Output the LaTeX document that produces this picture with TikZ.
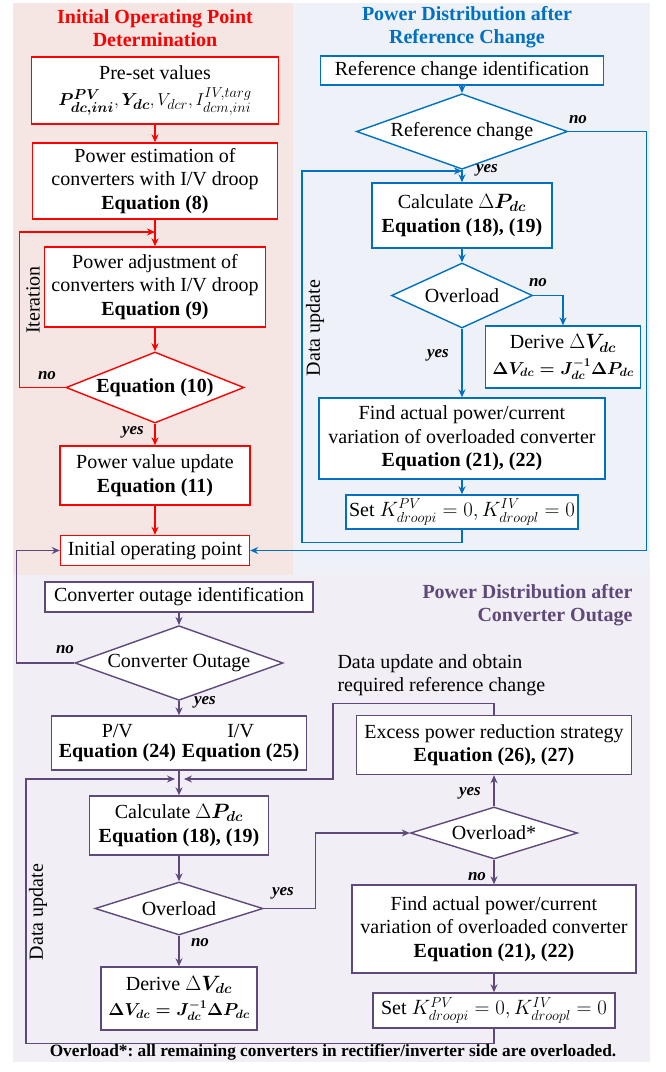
\documentclass[tikz,border=0pt]{standalone}
\usepackage{amsmath}
\usepackage{fontspec}
\setmainfont{Liberation Serif}
\usepackage{tikz}
\usetikzlibrary{arrows.meta, shapes.geometric, positioning}
\frenchspacing

\definecolor{opred}{HTML}{FF0000}
\definecolor{refblue}{HTML}{0070C0}
\definecolor{outpurple}{HTML}{5F497A}
\definecolor{opbg}{HTML}{F5E5E3}
\definecolor{refbg}{HTML}{EEF1F7}
\definecolor{outbg}{HTML}{F1EEF5}

\begin{document}
\begin{tikzpicture}[x=1pt, y=-1pt,
    txt/.style={font=\fontsize{20}{23.5}\selectfont},
    box/.style={draw, fill=white, line width=1.4pt, rectangle, align=center, inner sep=0pt, txt},
    choice/.style={draw, fill=white, line width=1.4pt, diamond, aspect=2.5, inner sep=0pt, txt},
    flow/.style={line width=1.3pt, -{Stealth[length=8pt,width=7pt]}},
    ans/.style={font=\fontsize{17}{19}\selectfont\bfseries\itshape},
    title/.style={font=\fontsize{20}{23}\selectfont\bfseries, align=center},
  ]
    \useasboundingbox (0,0) rectangle (665,1072);

    % Backgrounds of the three parts
    \fill[opbg] (13,3) rectangle (293,575);
    \fill[refbg] (293,3) rectangle (650,575);
    \fill[outbg] (13,575) rectangle (650,1062);

    % Initial operating point determination
    \begin{scope}[draw=opred, opred]
        \node[title] (optitle) at (155,28.5) {Initial Operating Point\\Determination};
        \node[box, minimum width=247pt, minimum height=67pt] (preset) at (155,90.5)
            {\color{black}Pre-set values\\[3pt]\color{black}\fontsize{19}{22}\selectfont$\boldsymbol{P^{PV}_{dc,ini}}, \boldsymbol{Y_{dc}}, V_{dcr}, I^{IV,targ}_{dcm,ini}$};
        \node[box, minimum width=245pt, minimum height=76pt] (est) at (155,181)
            {\color{black}Power estimation of\\\color{black}converters with I/V droop\\\color{black}\textbf{Equation (8)}};
        \node[box, minimum width=221pt, minimum height=80pt] (adj) at (155,287)
            {\color{black}Power adjustment of\\\color{black}converters with I/V droop\\\color{black}\textbf{Equation (9)}};
        \node[choice, minimum width=178pt, minimum height=71pt] (eqten) at (155,387.5)
            {\color{black}\textbf{Equation (10)}};
        \node[box, minimum width=190pt, minimum height=59pt] (upd) at (155,475.5)
            {\color{black}Power value update\\\color{black}\textbf{Equation (11)}};
        \node[box, minimum width=189pt, minimum height=30pt] (init) at (155,550.5)
            {\color{black}Initial operating point};
        \coordinate (opjoin) at (155,232);

        \draw[flow] (preset) -- (est);
        \draw[flow] (est) -- (adj);
        \draw[flow] (adj) -- (eqten);
        \draw[flow] (eqten.west) -- ++(-46,0) |- (opjoin);
        \draw[flow] (eqten) -- (upd);
        \draw[flow] (upd) -- (init);

        \node[ans, black] at (47,376) {no};
        \node[ans, black] at (133,432) {yes};
        \node[txt, black, rotate=90] at (33,300) {Iteration};
    \end{scope}

    % Power distribution after reference change
    \begin{scope}[draw=refblue, refblue]
        \node[title] (reftitle) at (467,27.5) {Power Distribution after\\Reference Change};
        \node[box, minimum width=283pt, minimum height=29pt] (refid) at (462,70.5)
            {\color{black}Reference change identification};
        \node[choice, minimum width=211pt, minimum height=63pt] (refchg) at (462,131.5)
            {\color{black}Reference change};
        \node[box, minimum width=180pt, minimum height=65pt] (calcref) at (462,215.5)
            {\color{black}Calculate $\Delta\boldsymbol{P_{dc}}$\\\color{black}\textbf{Equation (18), (19)}};
        \node[choice, minimum width=141pt, minimum height=65pt] (ovlref) at (462,295.5)
            {\color{black}Overload};
        \node[box, minimum width=155pt, minimum height=62pt] (derref) at (563,357)
            {\color{black}Derive $\Delta\boldsymbol{V_{dc}}$\\[2pt]\color{black}\fontsize{17}{20}\selectfont$\boldsymbol{\Delta V_{dc}=J^{-1}_{dc}\Delta P_{dc}}$};
        \node[box, minimum width=286pt, minimum height=81pt] (findref) at (462,438.5)
            {\color{black}Find actual power/current\\\color{black}variation of overloaded converter\\\color{black}\textbf{Equation (21), (22)}};
        \node[box, minimum width=232pt, minimum height=34pt] (setref) at (462,512)
            {\color{black}Set $K^{PV}_{droopi}=0, K^{IV}_{droopl}=0$};
        \coordinate (refjoin) at (462,171);

        \draw[flow] (refid) -- (refchg);
        \draw[flow] (refchg.east) -- ++(78,0) |- (init.east);
        \draw[flow] (refchg) -- (calcref);
        \draw[flow] (calcref) -- (ovlref);
        \draw[flow] (ovlref.east) -| (derref.north);
        \draw[flow] (ovlref) -- (findref);
        \draw[flow] (findref) -- (setref);
        \draw[flow] (setref.south) -- ++(0,13) -| (302,200) |- (refjoin);

        \node[ans, black] at (578,120) {no};
        \node[ans, black] at (487,170) {yes};
        \node[ans, black] at (538,283) {no};
        \node[ans, black] at (438,355) {yes};
        \node[txt, black, rotate=90] at (315,328) {Data update};
    \end{scope}

    % Power distribution after converter outage
    \begin{scope}[draw=outpurple, outpurple]
        \node[title, anchor=east, align=right] (outtitle) at (636,605) {Power Distribution after\\Converter Outage};
        \node[box, minimum width=268pt, minimum height=30pt] (outid) at (179,597)
            {\color{black}Converter outage identification};
        \node[choice, minimum width=208pt, minimum height=70pt] (outchk) at (179,663)
            {\color{black}Converter Outage};
        \node[box, minimum width=255pt, minimum height=54pt] (droops) at (179,743)
            {\color{black}\begin{tabular}{@{}c@{\hspace{6pt}}c@{}}P/V & I/V\\[-4pt]\textbf{Equation (24)} & \textbf{Equation (25)}\end{tabular}};
        \node[box, minimum width=179pt, minimum height=59pt] (calcout) at (179,825.5)
            {\color{black}Calculate $\Delta\boldsymbol{P_{dc}}$\\\color{black}\textbf{Equation (18), (19)}};
        \node[choice, minimum width=168pt, minimum height=53pt] (ovlout) at (179,908.5)
            {\color{black}Overload};
        \node[box, minimum width=156pt, minimum height=63pt] (derout) at (179,998.5)
            {\color{black}Derive $\Delta\boldsymbol{V_{dc}}$\\[2pt]\color{black}\fontsize{17}{20}\selectfont$\boldsymbol{\Delta V_{dc}=J^{-1}_{dc}\Delta P_{dc}}$};
        \node[box, minimum width=275pt, minimum height=59pt] (excess) at (494,745)
            {\color{black}Excess power reduction strategy\\\color{black}\textbf{Equation (26), (27)}};
        \node[choice, minimum width=167pt, minimum height=52pt] (ovlall) at (494,833)
            {\color{black}Overload*};
        \node[box, minimum width=284pt, minimum height=88pt] (findout) at (494,929)
            {\color{black}Find actual power/current\\\color{black}variation of overloaded converter\\\color{black}\textbf{Equation (21), (22)}};
        \node[box, minimum width=242pt, minimum height=35pt] (setout) at (494,1010.5)
            {\color{black}Set $K^{PV}_{droopi}=0, K^{IV}_{droopl}=0$};
        \coordinate (outjoinl) at (175,779);
        \coordinate (outjoinr) at (184,779);

        \draw[flow] (outid) -- (outchk);
        \draw[flow] (outchk.west) -- ++(-58,0) |- (init.west);
        \draw[flow] (outchk) -- (droops);
        \draw[flow] (droops) -- (calcout);
        \draw[flow] (calcout) -- (ovlout);
        \draw[flow] (ovlout) -- (derout);
        \draw[flow] (ovlout.east) -- ++(52,0) |- (ovlall.west);
        \draw[flow] (ovlall) -- (excess);
        \draw[flow] (ovlall) -- (findout);
        \draw[flow] (findout) -- (setout);
        \draw[flow] (excess.north) -- ++(0,-11) -| (333,760) |- (outjoinr);
        \draw[flow] (setout.south) -- ++(0,15) -| (26,900) |- (outjoinl);

        \node[ans, black] at (65,650) {no};
        \node[ans, black] at (205,702) {yes};
        \node[ans, black] at (283,893) {yes};
        \node[ans, black] at (200,943) {no};
        \node[ans, black] at (470,793) {yes};
        \node[ans, black] at (477,877) {no};
        \node[txt, black, rotate=90] at (38,912) {Data update};
        \node[txt, black, anchor=west, align=left] (obtain) at (334,675)
            {Data update and obtain\\required reference change};
    \end{scope}

    \node[font=\fontsize{17.3}{19}\selectfont\bfseries] (footnote) at (333,1052)
        {Overload*: all remaining converters in rectifier/inverter side are overloaded.};

\end{tikzpicture}
\end{document}
